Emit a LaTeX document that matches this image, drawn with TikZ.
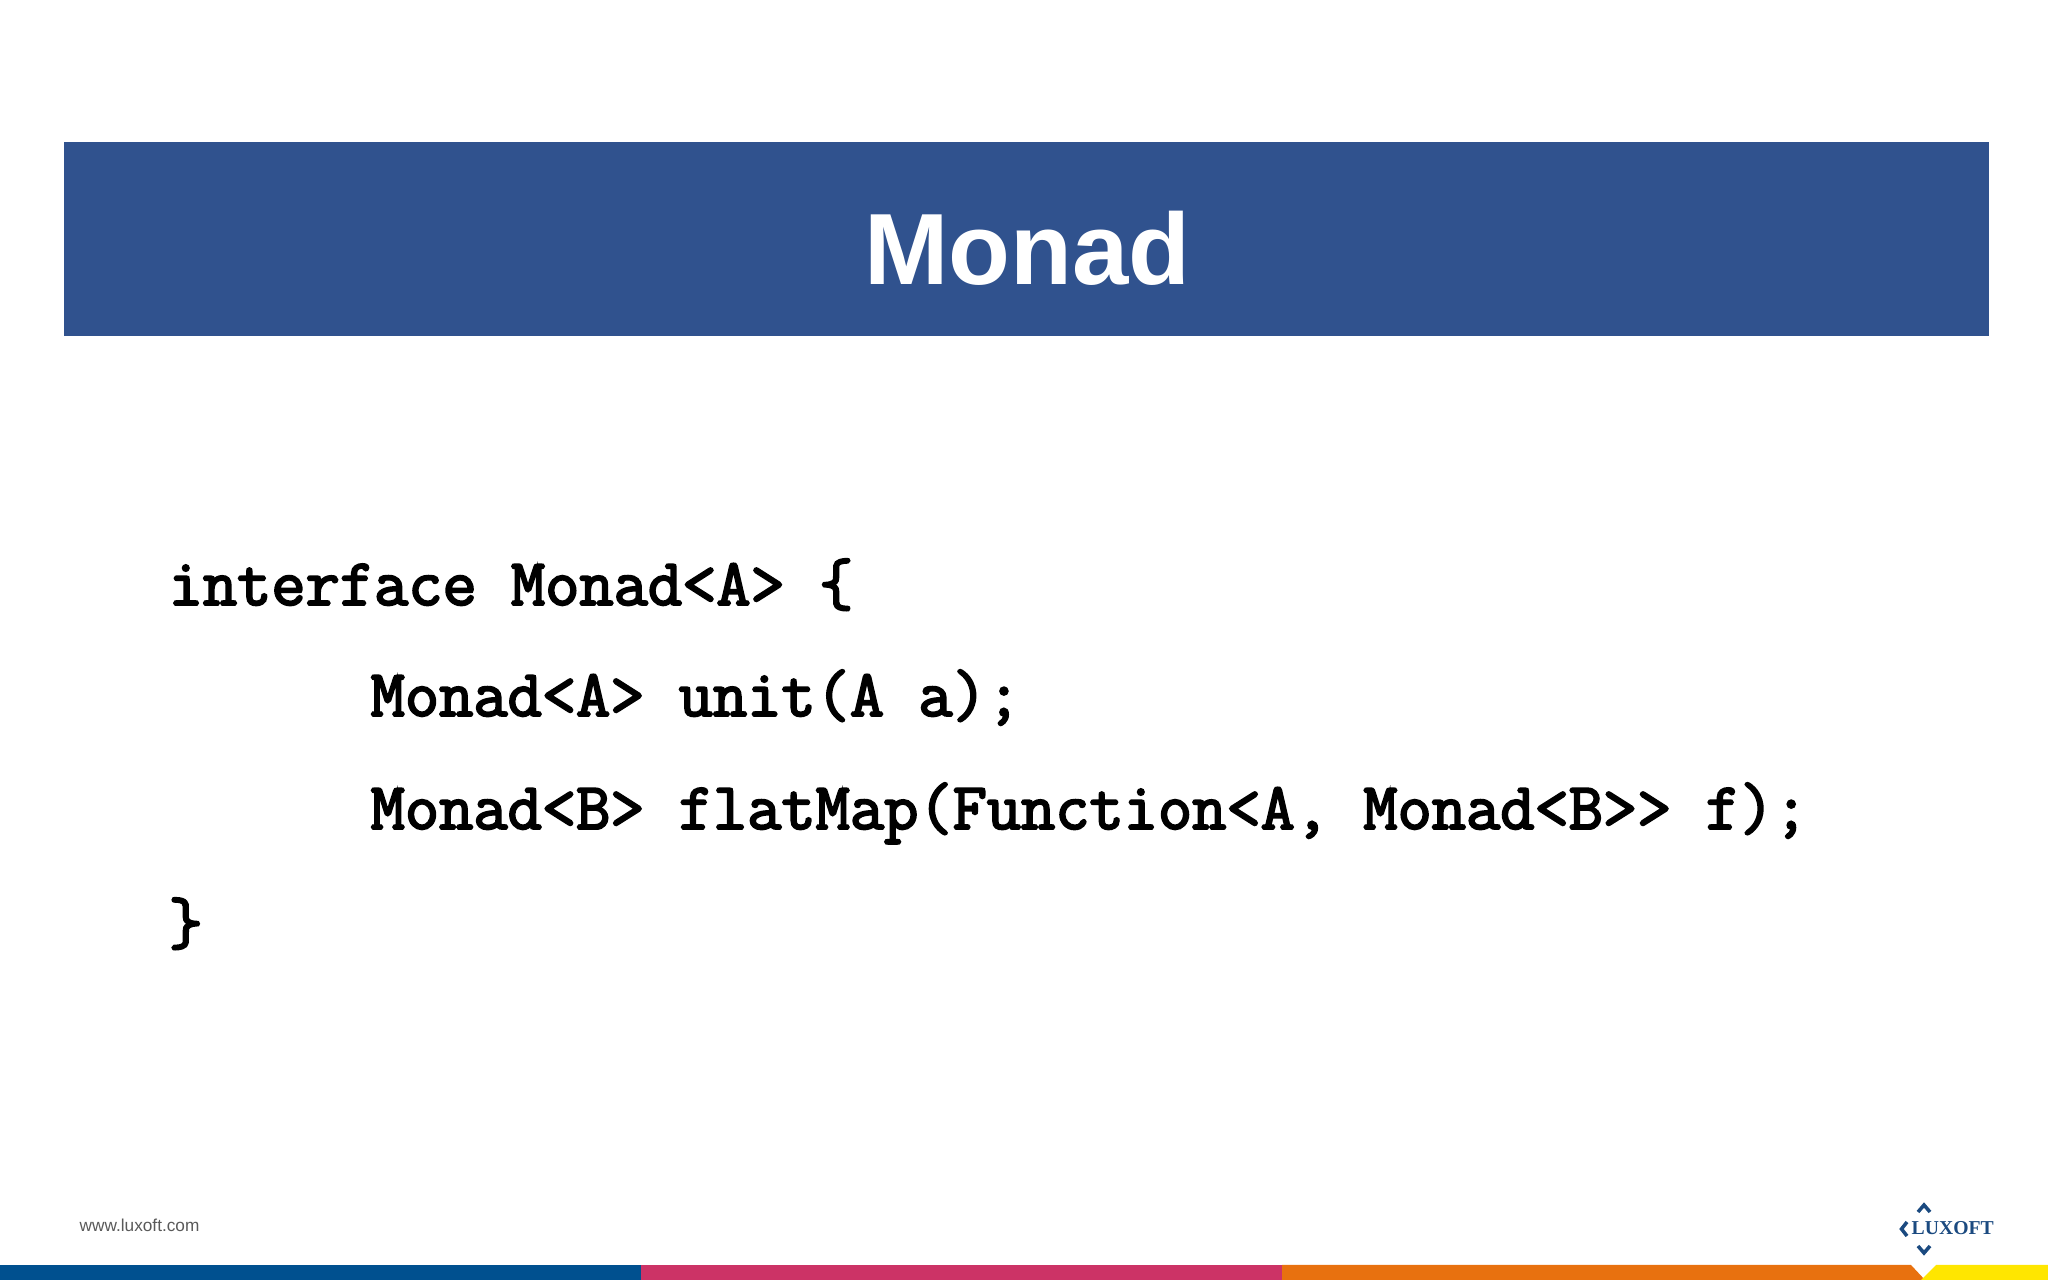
\documentclass[tikz,border=0pt]{standalone}
\usepackage{fontspec}
\setmainfont{Liberation Sans}
\newfontfamily\codefont{Latin Modern Mono}[FakeBold=3]
\newfontfamily\logofont{Liberation Serif}
\definecolor{banner}{HTML}{30528E}
\definecolor{barblue}{HTML}{00508F}
\definecolor{barpink}{HTML}{CC3366}
\definecolor{barorange}{HTML}{E8710F}
\definecolor{baryellow}{HTML}{FFE600}
\definecolor{logoblue}{HTML}{1B4A80}
\tikzset{
  codeline/.style={anchor=base west,inner sep=0pt,font=\fontsize{18.9}{18.9}\selectfont\codefont},
  chevron/.style={draw=logoblue,line width=1pt,line join=miter}
}
\begin{document}
\begin{tikzpicture}[x=0.01cm,y=-0.01cm]
      \useasboundingbox (0,0) rectangle (2048,1280);
      \fill[banner] (64,142) rectangle (1989,336);
      \node[anchor=base,inner sep=0pt,text=white,font=\fontsize{28.8}{30}\selectfont\bfseries] (title) at (1027.5,285) {Monad};
      \node[codeline] (line1) at (168,605) {interface Monad<A> \{};
      \node[codeline] (line2) at (370,716) {Monad<A> unit(A a);};
      \node[codeline] (line3) at (370,829) {Monad<B> flatMap(Function<A, Monad<B>> f);};
      \node[codeline] (line4) at (168,944) {\}};
      \node[anchor=base west,inner sep=0pt,text=black!65,font=\fontsize{4.9}{5}\selectfont] (site) at (79,1232) {www.luxoft.com};
      % bottom bar
      \fill[barblue] (0,1265) rectangle (641,1280);
      \fill[barpink] (641,1265) rectangle (1282,1280);
      \fill[barorange] (1282,1265) -- (1911,1265) -- (1925,1280) -- (1282,1280) -- cycle;
      \fill[baryellow] (1936,1265) -- (2048,1265) -- (2048,1280) -- (1921,1280) -- cycle;
      % logo
      \node[anchor=base west,inner sep=0pt,text=logoblue,font=\fontsize{5.6}{6}\selectfont\logofont\bfseries] (logo) at (1911,1235) {LUXOFT};
      \draw[chevron] (1918,1212) -- (1924,1205) -- (1930,1212);
      \draw[chevron] (1918,1246) -- (1924,1253) -- (1930,1246);
      \draw[chevron] (1907,1222) -- (1901.5,1229) -- (1907,1236);
\end{tikzpicture}
\end{document}
